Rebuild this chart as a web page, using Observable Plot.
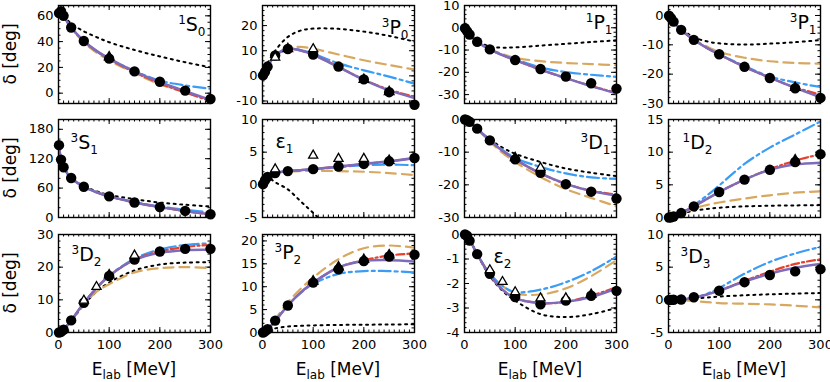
<!DOCTYPE html>
<html><head><meta charset="utf-8">
<script src="https://cdn.jsdelivr.net/npm/d3@7"></script>
<script src="https://cdn.jsdelivr.net/npm/@observablehq/plot@0.6"></script>
<style>
body{margin:0;background:#fff;font-family:"DejaVu Sans",sans-serif;}
#chart{position:relative;width:830px;height:382px;overflow:hidden;background:#fff;}
.ylab{position:absolute;font-size:17px;white-space:nowrap;transform:translate(-50%,-50%) rotate(-90deg);line-height:1;}
.xlab{position:absolute;font-size:17px;white-space:nowrap;transform:translateX(-50%);line-height:1;}
.xlab sub{font-size:12px;vertical-align:-4px;line-height:0;}
</style></head><body><div id="chart"></div>
<script>
// ---------- data ----------
const energies = [1, 5, 10, 25, 50, 75, 100, 150, 200, 250, 300];
const pwaEnergies = [1, 5, 10, 25, 50, 100, 150, 200, 250, 300];
const orders = ["LO", "NLO", "N2LO", "N3LO", "N4LO"];
const panels = ["1S0", "3P0", "1P1", "3P1", "3S1", "ε1", "3D1", "1D2", "3D2", "3P2", "ε2", "3D3"];
const labelSup = ["1", "3", "1", "3", "3", "", "3", "1", "3", "3", "", "3"];
const labelMain = ["S", "P", "P", "P", "S", "ε", "D", "D", "D", "P", "ε", "D"];
const labelSub = ["0", "0", "1", "1", "1", "1", "1", "2", "2", "2", "2", "3"];
const yDomains = [[-8, 68], [-11, 28], [-34, 10], [-30, 3.4], [0, 200], [-5, 10], [-30, 0], [0, 15], [0, 30], [0, 21.4], [-4, 0], [-5, 10]];
const yTicks = [[0, 20, 40, 60], [-10, 0, 10, 20], [-30, -20, -10, 0, 10], [-30, -20, -10, 0], [0, 60, 120, 180], [-5, 0, 5, 10],
  [-30, -20, -10, 0], [0, 5, 10, 15], [0, 10, 20, 30], [0, 5, 10, 15, 20], [-4, -3, -2, -1, 0], [-5, 0, 5, 10]];
const yMinorStep = [5, 2, 2, 2, 20, 1, 2, 1, 2, 1, 0.2, 1];
const xTicks = [0, 100, 200, 300];

// curves: rows LO, NLO, N2LO, N3LO, N4LO at `energies`
const ph1S0 = [
  [62.0, 62.5, 60.0, 54.0, 48.0, 43.5, 39.5, 33.5, 28.5, 24.0, 20.0],
  [62.0, 63.6, 60.0, 50.5, 39.5, 31.5, 25.5, 15.5, 7.0, 0.8, -5.0],
  [62.0, 63.6, 60.0, 50.9, 40.5, 32.8, 26.8, 17.2, 9.8, 6.0, 3.5],
  [62.0, 63.6, 60.0, 50.9, 40.3, 32.5, 26.3, 16.2, 7.6, 0.5, -6.0],
  [62.0, 63.6, 60.0, 50.9, 40.5, 32.8, 26.8, 16.9, 8.6, 1.6, -5.2]];
const ph3P0 = [
  [0.3, 2.5, 5.0, 10.0, 15.5, 18.0, 18.8, 18.7, 17.6, 15.9, 13.6],
  [0.2, 1.6, 3.7, 8.3, 11.0, 11.5, 10.8, 8.5, 6.2, 4.3, 2.5],
  [0.2, 1.6, 3.7, 8.1, 10.7, 10.3, 8.8, 5.0, 2.2, -0.3, -3.1],
  [0.2, 1.6, 3.7, 8.1, 10.7, 10.1, 8.4, 3.6, -1.5, -5.5, -8.3],
  [0.2, 1.6, 3.7, 8.1, 10.7, 10.1, 8.4, 3.5, -1.6, -5.8, -8.8]];
const ph1P1 = [
  [-0.2, -1.4, -2.8, -6.0, -8.4, -8.9, -8.8, -8.0, -7.2, -6.4, -5.6],
  [-0.2, -1.5, -3.0, -6.3, -9.6, -11.8, -13.5, -15.0, -15.8, -16.3, -16.8],
  [-0.2, -1.5, -3.0, -6.3, -9.7, -12.2, -14.2, -17.8, -19.9, -21.1, -22.0],
  [-0.2, -1.5, -3.0, -6.3, -9.7, -12.3, -14.5, -18.8, -22.6, -26.1, -29.2],
  [-0.2, -1.5, -3.0, -6.3, -9.7, -12.3, -14.5, -18.8, -22.6, -26.2, -29.5]];
const ph3P1 = [
  [-0.1, -0.9, -2.0, -4.6, -7.4, -8.8, -9.5, -9.9, -9.6, -9.1, -8.4],
  [-0.1, -0.9, -2.1, -4.9, -8.1, -10.5, -12.4, -14.4, -15.6, -16.2, -16.4],
  [-0.1, -0.9, -2.1, -4.9, -8.3, -11.0, -13.2, -17.2, -20.8, -22.8, -24.4],
  [-0.1, -0.9, -2.1, -4.9, -8.3, -11.0, -13.3, -17.5, -21.2, -24.5, -27.0],
  [-0.1, -0.9, -2.1, -4.9, -8.3, -11.0, -13.3, -17.5, -21.2, -24.7, -27.9]];
const ph3S1 = [
  [147.7, 118.2, 102.6, 81.0, 64.0, 53.5, 46.0, 37.5, 30.5, 26.0, 22.5],
  [147.7, 118.2, 102.6, 80.6, 62.8, 51.5, 43.2, 30.5, 21.0, 13.0, 6.0],
  [147.7, 118.2, 102.6, 80.6, 62.8, 51.5, 43.5, 31.5, 22.5, 16.0, 10.0],
  [147.7, 118.2, 102.6, 80.6, 62.8, 51.5, 43.2, 30.7, 21.2, 13.2, 6.0],
  [147.7, 118.2, 102.6, 80.6, 62.8, 51.5, 43.2, 30.7, 21.2, 13.4, 6.6]];
const phE1 = [
  [0.1, 0.8, 1.2, 0.4, -0.7, -2.5, -4.3, -8.0, -11.5, -15.0, -18.5],
  [0.1, 0.7, 1.2, 1.8, 2.0, 2.1, 2.15, 2.1, 2.0, 1.8, 1.5],
  [0.1, 0.7, 1.2, 1.8, 2.1, 2.25, 2.4, 2.7, 3.0, 3.1, 3.0],
  [0.1, 0.7, 1.2, 1.8, 2.1, 2.25, 2.4, 2.8, 3.2, 3.6, 4.1],
  [0.1, 0.7, 1.2, 1.8, 2.1, 2.25, 2.4, 2.8, 3.2, 3.6, 4.1]];
const ph3D1 = [
  [0, -0.2, -0.7, -2.8, -6.1, -8.6, -10.5, -13.0, -15.0, -16.3, -17.3],
  [0, -0.2, -0.7, -2.9, -6.8, -10.2, -13.0, -17.6, -21.3, -24.0, -26.6],
  [0, -0.2, -0.7, -2.8, -6.3, -9.3, -11.8, -14.5, -16.5, -17.7, -18.2],
  [0, -0.2, -0.7, -2.8, -6.4, -9.6, -12.2, -16.5, -19.7, -21.8, -23.0],
  [0, -0.2, -0.7, -2.8, -6.4, -9.6, -12.2, -16.5, -19.7, -21.9, -23.3]];
const ph1D2 = [
  [0, 0.04, 0.15, 0.55, 1.05, 1.3, 1.5, 1.7, 1.8, 1.85, 1.9],
  [0, 0.04, 0.16, 0.6, 1.4, 1.9, 2.3, 2.9, 3.4, 3.8, 4.0],
  [0, 0.04, 0.16, 0.7, 1.9, 3.3, 4.9, 8.2, 10.7, 12.7, 14.7],
  [0, 0.04, 0.16, 0.68, 1.7, 2.8, 3.9, 5.8, 7.4, 8.7, 9.7],
  [0, 0.04, 0.16, 0.68, 1.7, 2.8, 3.9, 5.8, 7.3, 8.1, 8.4]];
const ph3D2 = [
  [0, 0.2, 0.8, 3.5, 8.5, 12.5, 15.3, 19.0, 20.8, 21.4, 21.5],
  [0, 0.2, 0.8, 3.5, 8.5, 12.5, 14.8, 18.4, 19.7, 20.0, 19.7],
  [0, 0.2, 0.85, 3.7, 9.0, 13.6, 17.4, 22.6, 25.4, 26.8, 27.3],
  [0, 0.2, 0.85, 3.7, 9.0, 13.6, 17.3, 22.3, 24.8, 26.2, 26.8],
  [0, 0.2, 0.85, 3.7, 9.0, 13.6, 17.3, 22.2, 24.4, 25.2, 25.3]];
const ph3P2 = [
  [0, 0.2, 0.5, 0.9, 1.3, 1.45, 1.55, 1.65, 1.7, 1.75, 1.8],
  [0, 0.25, 0.8, 2.9, 6.6, 9.5, 12.0, 16.0, 18.4, 19.0, 18.5],
  [0, 0.25, 0.7, 2.5, 5.9, 8.6, 10.6, 12.8, 13.4, 13.4, 13.1],
  [0, 0.25, 0.7, 2.5, 5.9, 8.7, 10.9, 14.2, 15.8, 16.8, 17.3],
  [0, 0.25, 0.7, 2.5, 5.9, 8.7, 10.9, 14.2, 15.6, 15.8, 15.5]];
const phE2 = [
  [0, -0.05, -0.2, -0.8, -1.7, -2.3, -2.7, -3.25, -3.37, -3.25, -3.0],
  [0, -0.05, -0.2, -0.8, -1.6, -2.1, -2.4, -2.45, -2.2, -1.7, -1.05],
  [0, -0.05, -0.2, -0.8, -1.6, -2.1, -2.35, -2.25, -1.95, -1.5, -0.9],
  [0, -0.05, -0.2, -0.8, -1.65, -2.25, -2.6, -2.8, -2.75, -2.5, -2.15],
  [0, -0.05, -0.2, -0.8, -1.65, -2.25, -2.6, -2.8, -2.75, -2.55, -2.2]];
const ph3D3 = [
  [0, 0, 0, 0.05, 0.2, 0.35, 0.5, 0.7, 0.85, 0.95, 1.05],
  [0, 0, 0, 0, -0.2, -0.35, -0.5, -0.6, -0.7, -0.9, -1.15],
  [0, 0, 0, 0.05, 0.3, 0.9, 1.8, 4.0, 5.8, 7.1, 8.1],
  [0, 0, 0, 0.05, 0.3, 0.8, 1.4, 2.9, 4.3, 5.5, 6.2],
  [0, 0, 0, 0.05, 0.3, 0.8, 1.4, 2.8, 4.0, 4.9, 5.5]];

// partial-wave analysis points at `pwaEnergies`
const pwa1S0 = [62.1, 63.6, 60.0, 50.9, 40.5, 26.8, 16.9, 8.9, 2.0, -4.5];
const pwa3P0 = [0.2, 1.6, 3.7, 8.1, 10.7, 8.5, 3.7, -1.4, -6.5, -11.5];
const pwa1P1 = [-0.2, -1.5, -3.0, -6.3, -9.7, -14.5, -18.5, -21.9, -24.9, -27.3];
const pwa3P1 = [-0.1, -0.9, -2.1, -4.9, -8.3, -13.2, -17.5, -21.3, -24.8, -28.1];
const pwa3S1 = [147.7, 118.2, 102.6, 80.6, 62.8, 43.2, 30.7, 21.2, 13.4, 6.6];
const pwaE1 = [0.1, 0.7, 1.2, 1.8, 2.1, 2.4, 2.8, 3.2, 3.6, 4.1];
const pwa3D1 = [0, -0.2, -0.7, -2.8, -6.4, -12.2, -16.3, -19.8, -22.1, -24.2];
const pwa1D2 = [0, 0.04, 0.16, 0.68, 1.7, 3.9, 5.8, 7.3, 8.5, 9.7];
const pwa3D2 = [0, 0.2, 0.85, 3.7, 9.1, 17.3, 22.3, 24.8, 25.6, 25.6];
const pwa3P2 = [0, 0.25, 0.7, 2.6, 5.9, 10.9, 13.8, 15.6, 16.6, 17.0];
const pwaE2 = [0, -0.05, -0.25, -0.8, -1.6, -2.55, -2.85, -2.7, -2.5, -2.3];
const pwa3D3 = [0, 0, 0.01, 0.05, 0.4, 1.4, 2.7, 3.8, 4.35, 4.7];

// other analyses: open triangles and filled triangles (panel, E, value)
const openTriPanel = ["3P0", "3P0", "ε1", "ε1", "ε1", "ε1", "3D1", "3D2", "3D2", "3D2", "ε2", "ε2", "ε2", "ε2", "ε2"];
const openTriE = [25, 100, 25, 100, 150, 200, 150, 50, 75, 150, 50, 75, 100, 150, 200];
const openTriV = [7.3, 10.7, 2.4, 4.5, 4.0, 4.0, -14.8, 9.8, 14.0, 23.6, -1.45, -1.93, -2.35, -2.6, -2.6];
const fillTriPanel = ["1S0", "3P0", "3P0", "3P0", "3P1", "ε1", "3D1", "1D2", "3D2", "3P2", "3P2", "3P2", "3P2", "ε2"];
const fillTriE = [100, 50, 200, 250, 250, 250, 100, 250, 100, 100, 150, 200, 250, 250];
const fillTriV = [28.0, 10.8, -1.5, -6.4, -24.6, 3.7, -11.7, 8.8, 17.6, 11.2, 14.3, 15.9, 16.9, -2.45];

const phases = [ph1S0, ph3P0, ph1P1, ph3P1, ph3S1, phE1, ph3D1, ph1D2, ph3D2, ph3P2, phE2, ph3D3];
const pwaAll = [pwa1S0, pwa3P0, pwa1P1, pwa3P1, pwa3S1, pwaE1, pwa3D1, pwa1D2, pwa3D2, pwa3P2, pwaE2, pwa3D3];

// ---------- styles / layout ----------
const orderStyle = {
  LO: {stroke: "#000000", strokeWidth: 2, strokeDasharray: "2,4.5"},
  NLO: {stroke: "#d9a860", strokeWidth: 2.2, strokeDasharray: "10,6"},
  N2LO: {stroke: "#3a9cf5", strokeWidth: 2.2, strokeDasharray: "12,4,3,4"},
  N3LO: {stroke: "#e8402c", strokeWidth: 2.2, strokeDasharray: "8,3,2,3"},
  N4LO: {stroke: "#7e6cbb", strokeWidth: 2.5}
};
const labelSide = ["right", "right", "right", "right", "left", "left", "right", "left", "left", "left", "left", "left"];
const labelDx = [5, 6, 4, 4, 12, 13, 6, 14, 13, 12, 29, 12];
const labelDy = [25, 28, 23, 23, 29, 28, 29, 29, 26, 24, 28, 28];
const frameLeft = [58, 262, 464, 668];
const frameTop = [5, 119, 234];
const frameW = 152, frameH = 98;
const ML = 40, MR = 10, MT = 10, MB = 10, MBLAST = 30;
const MAJOR = 5, MINOR = 2.5; // tick lengths in px

const chart = document.getElementById("chart");
const fmt = d => String(d);

panels.forEach((name, i) => {
  const r = Math.floor(i / 4), c = i % 4;
  const mb = r === 2 ? MBLAST : MB;
  const [lo, hi] = yDomains[i];
  const step = yMinorStep[i];
  const yMinor = d3.range(Math.ceil(lo / step - 1e-9), Math.floor(hi / step + 1e-9) + 1).map(k => +(k * step).toFixed(4));
  const xMinor = d3.range(0, 31).map(k => k * 10);
  // tick lengths converted to data units (through the frame size)
  const yPerPx = (hi - lo) / frameH, xPerPx = 300 / frameW;

  const marks = [];
  const tickStyle = {stroke: "black", strokeWidth: 1};
  for (const [ticks, len] of [[xMinor, MINOR], [xTicks, MAJOR]]) {
    marks.push(Plot.ruleX(ticks, {x: d => d, y1: () => lo, y2: () => lo + len * yPerPx, ...tickStyle}));
    marks.push(Plot.ruleX(ticks, {x: d => d, y1: () => hi, y2: () => hi - len * yPerPx, ...tickStyle}));
  }
  for (const [ticks, len] of [[yMinor, MINOR], [yTicks[i], MAJOR]]) {
    marks.push(Plot.ruleY(ticks, {y: d => d, x1: () => 0, x2: () => len * xPerPx, ...tickStyle}));
    marks.push(Plot.ruleY(ticks, {y: d => d, x1: () => 300, x2: () => 300 - len * xPerPx, ...tickStyle}));
  }

  orders.forEach((o, k) => {
    const rows = phases[i][k].map((v, j) => ({E: energies[j], v}));
    marks.push(Plot.line(rows, {x: "E", y: "v", curve: "catmull-rom", clip: true, ...orderStyle[o]}));
  });

  const pwaRows = pwaAll[i].map((v, j) => ({E: pwaEnergies[j], v}));
  marks.push(Plot.dot(pwaRows, {x: "E", y: "v", r: 5.2, fill: "black", stroke: "none"}));
  const ft = fillTriPanel.map((p, j) => ({p, E: fillTriE[j], v: fillTriV[j]})).filter(d => d.p === name);
  marks.push(Plot.dot(ft, {x: "E", y: "v", r: 4.4, symbol: "triangle", fill: "black", stroke: "none"}));
  const ot = openTriPanel.map((p, j) => ({p, E: openTriE[j], v: openTriV[j]})).filter(d => d.p === name);
  marks.push(Plot.dot(ot, {x: "E", y: "v", r: 3.4, symbol: "triangle", fill: "white", stroke: "black", strokeWidth: 1.3}));

  marks.push(Plot.frame({stroke: "black", strokeWidth: 1.4}));
  const right = labelSide[i] === "right";
  marks.push(Plot.text([name], {
    frameAnchor: right ? "top-right" : "top-left",
    text: d => d, textAnchor: right ? "end" : "start", lineAnchor: "bottom",
    dx: right ? -labelDx[i] : labelDx[i], dy: labelDy[i], fontSize: 18, fill: "black"
  }));

  const svg = Plot.plot({
    width: ML + frameW + MR, height: MT + frameH + mb,
    marginLeft: ML, marginRight: MR, marginTop: MT, marginBottom: mb,
    x: {domain: [0, 300], axis: r === 2 ? "bottom" : null, ticks: xTicks, tickSize: 0, tickPadding: 7, tickFormat: fmt, label: null},
    y: {domain: [lo, hi], axis: "left", ticks: yTicks[i], tickSize: 0, tickPadding: 5, tickFormat: fmt, label: null},
    style: {fontFamily: "DejaVu Sans", fontSize: "13px", background: "transparent", overflow: "visible", color: "black"},
    marks
  });
  svg.style.position = "absolute";
  svg.style.left = (frameLeft[c] - ML) + "px";
  svg.style.top = (frameTop[r] - MT) + "px";

  // rich label: superscript / subscript
  const texts = svg.querySelectorAll('g[aria-label="text"] text');
  const t = texts[texts.length - 1];
  if (t) {
    t.textContent = "";
    const ns = "http://www.w3.org/2000/svg";
    const add = (str, size, dy) => {
      const s = document.createElementNS(ns, "tspan");
      s.setAttribute("font-size", size);
      if (dy) s.setAttribute("dy", dy);
      s.textContent = str;
      t.appendChild(s);
    };
    if (labelSup[i]) { add(labelSup[i], 12, -7); add(labelMain[i], 19, 7); }
    else add(labelMain[i], 19, 0);
    add(labelSub[i], 12, 5);
  }
  chart.appendChild(svg);
});

// axis titles
[54, 168, 283].forEach(cy => {
  const d = document.createElement("div");
  d.className = "ylab"; d.textContent = "δ [deg]";
  d.style.left = "10px"; d.style.top = cy + "px";
  chart.appendChild(d);
});
frameLeft.forEach(fl => {
  const d = document.createElement("div");
  d.className = "xlab"; d.innerHTML = "E<sub>lab</sub> [MeV]";
  d.style.left = (fl + frameW / 2) + "px"; d.style.top = "361px";
  chart.appendChild(d);
});
</script></body></html>
